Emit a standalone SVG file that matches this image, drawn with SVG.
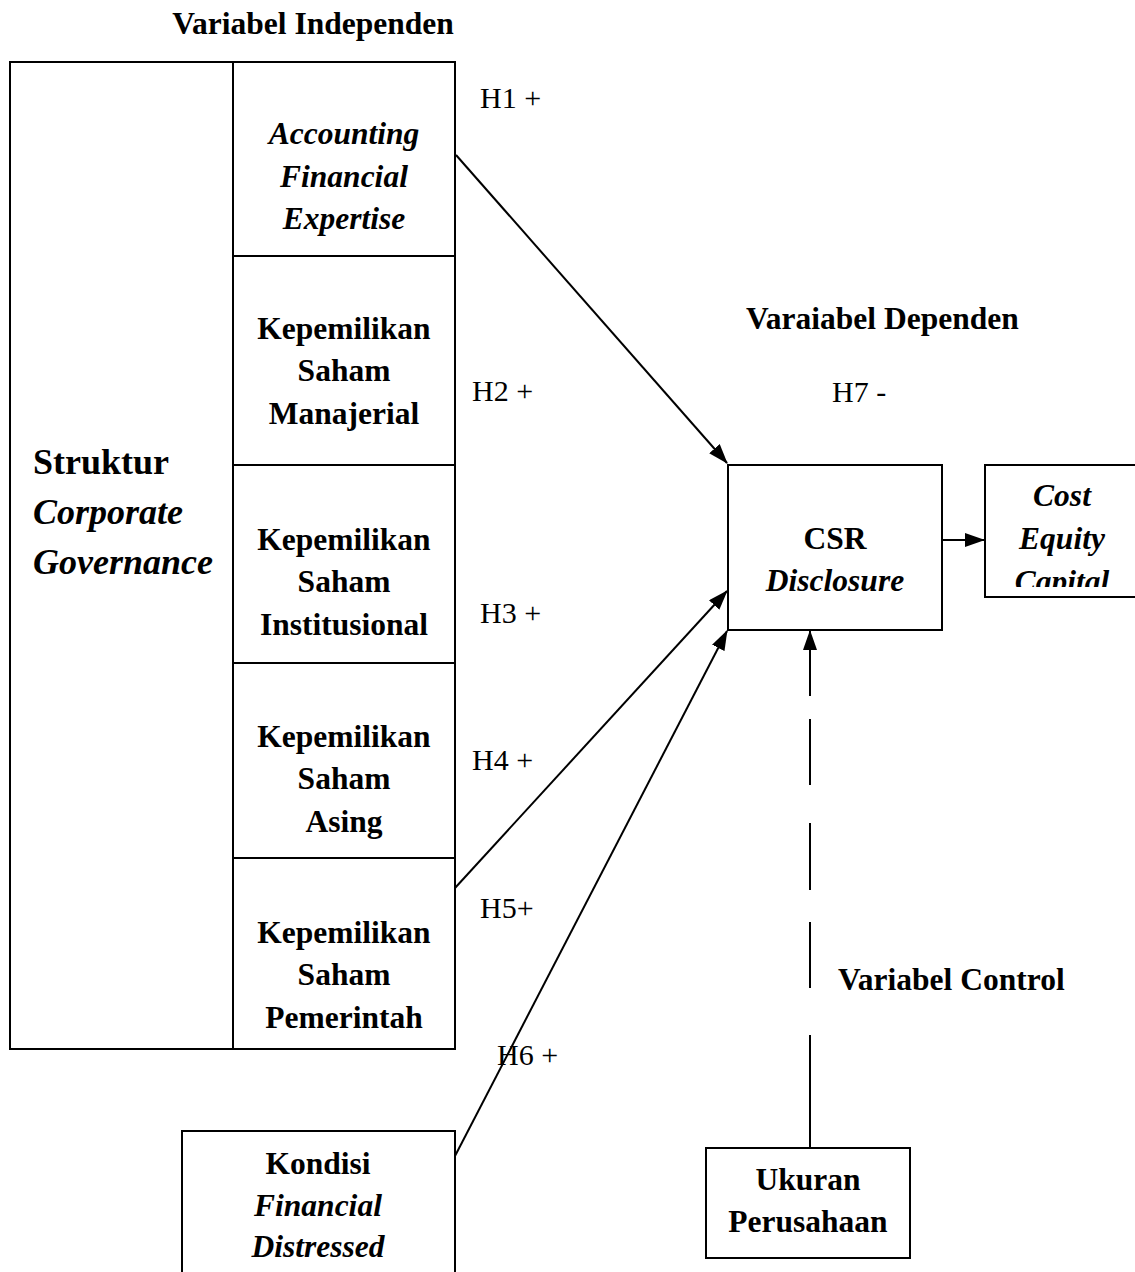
<svg xmlns="http://www.w3.org/2000/svg" width="1135" height="1272" viewBox="0 0 1135 1272">
<style>
.box{fill:#fff;stroke:#000;stroke-width:2}
.ln{fill:none;stroke:#000;stroke-width:2}
.t{font-family:"Liberation Serif","Times New Roman",serif;font-size:30px;fill:#000;text-anchor:middle}
.b{font-weight:bold;font-size:31.5px}
.i{font-style:italic}
.l{text-anchor:start}
.big{font-size:36px}
</style>
<defs>
<marker id="ah" markerUnits="userSpaceOnUse" markerWidth="20" markerHeight="14" refX="19" refY="7" orient="auto">
<path d="M0,0 L20,7 L0,14 Z" fill="#000"/>
</marker>
<clipPath id="costclip"><rect x="985" y="465" width="160" height="122"/></clipPath>
</defs>
<rect width="1135" height="1272" fill="#fff"/>

<text class="t b" x="313" y="34">Variabel Independen</text>

<g id="struktur">
<rect class="box" x="10" y="62" width="445" height="987"/>
<text class="t b l big" x="33" y="474">Struktur</text>
<text class="t b i l big" x="33" y="524">Corporate</text>
<text class="t b i l big" x="33" y="574">Governance</text>
</g>

<g id="afe">
<rect class="box" x="233" y="62" width="222" height="194"/>
<text class="t b i" x="344" y="144">Accounting</text>
<text class="t b i" x="344" y="187">Financial</text>
<text class="t b i" x="344" y="229">Expertise</text>
</g>

<g id="manajerial">
<rect class="box" x="233" y="256" width="222" height="209"/>
<text class="t b" x="344" y="339">Kepemilikan</text>
<text class="t b" x="344" y="381">Saham</text>
<text class="t b" x="344" y="424">Manajerial</text>
</g>

<g id="institusional">
<rect class="box" x="233" y="465" width="222" height="198"/>
<text class="t b" x="344" y="550">Kepemilikan</text>
<text class="t b" x="344" y="592">Saham</text>
<text class="t b" x="344" y="635">Institusional</text>
</g>

<g id="asing">
<rect class="box" x="233" y="663" width="222" height="195"/>
<text class="t b" x="344" y="747">Kepemilikan</text>
<text class="t b" x="344" y="789">Saham</text>
<text class="t b" x="344" y="832">Asing</text>
</g>

<g id="pemerintah">
<rect class="box" x="233" y="858" width="222" height="191"/>
<text class="t b" x="344" y="943">Kepemilikan</text>
<text class="t b" x="344" y="985">Saham</text>
<text class="t b" x="344" y="1028">Pemerintah</text>
</g>

<g id="csr">
<rect class="box" x="728" y="465" width="214" height="165"/>
<text class="t b" x="835" y="549">CSR</text>
<text class="t b i" x="835" y="591">Disclosure</text>
</g>

<g id="cost">
<rect class="box" x="985" y="465" width="160" height="132"/>
<g clip-path="url(#costclip)">
<text class="t b i" x="1062" y="506">Cost</text>
<text class="t b i" x="1062" y="549">Equity</text>
<text class="t b i" x="1062" y="592">Capital</text>
</g>
</g>

<g id="kondisi">
<rect class="box" x="182" y="1131" width="273" height="160"/>
<text class="t b" x="318" y="1174">Kondisi</text>
<text class="t b i" x="318" y="1216">Financial</text>
<text class="t b i" x="318" y="1257">Distressed</text>
</g>

<g id="ukuran">
<rect class="box" x="706" y="1148" width="204" height="110"/>
<text class="t b" x="808" y="1190">Ukuran</text>
<text class="t b" x="808" y="1232">Perusahaan</text>
</g>

<g id="connectors">
<line class="ln" x1="456" y1="155" x2="727" y2="463" marker-end="url(#ah)"/>
<line class="ln" x1="455" y1="888" x2="727" y2="591" marker-end="url(#ah)"/>
<line class="ln" x1="455" y1="1156" x2="727" y2="631" marker-end="url(#ah)"/>
<line class="ln" x1="942" y1="540" x2="984" y2="540" marker-end="url(#ah)"/>
<line class="ln" x1="810" y1="696" x2="810" y2="631" marker-end="url(#ah)"/>
<line class="ln" x1="810" y1="719" x2="810" y2="785"/>
<line class="ln" x1="810" y1="823" x2="810" y2="890"/>
<line class="ln" x1="810" y1="922" x2="810" y2="988"/>
<line class="ln" x1="810" y1="1035" x2="810" y2="1148"/>
</g>

<g id="labels">
<text class="t l" x="480" y="108">H1 +</text>
<text class="t l" x="472" y="401">H2 +</text>
<text class="t l" x="480" y="623">H3 +</text>
<text class="t l" x="472" y="770">H4 +</text>
<text class="t l" x="480" y="918">H5+</text>
<text class="t l" x="497" y="1065">H6 +</text>
<text class="t l" x="832" y="402">H7 -</text>
<text class="t b l" x="746" y="329">Varaiabel Dependen</text>
<text class="t b l" x="838" y="990">Variabel Control</text>
</g>
</svg>
